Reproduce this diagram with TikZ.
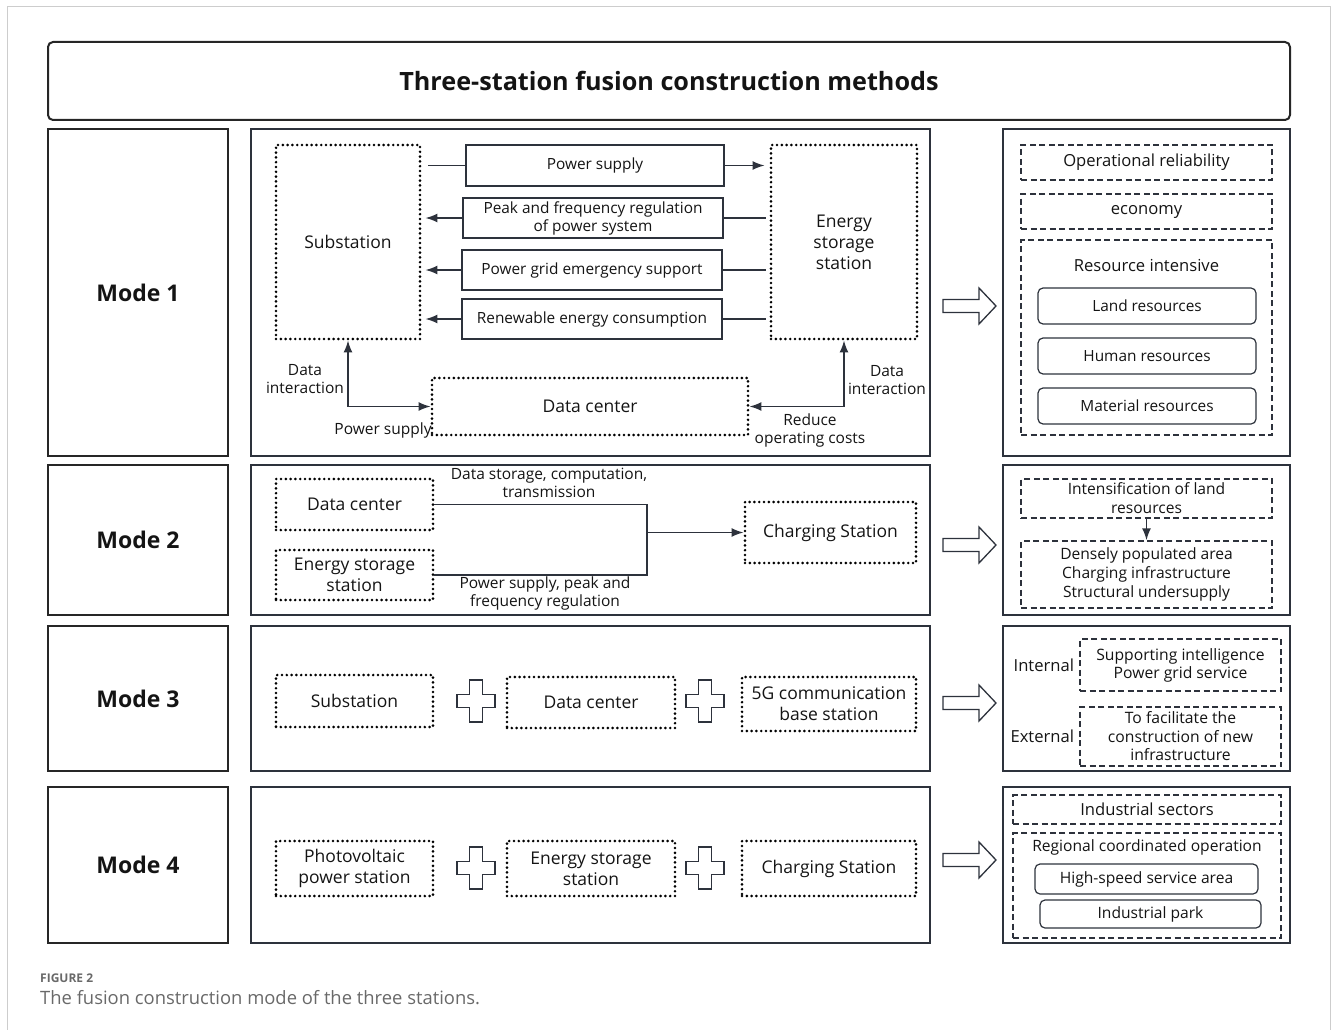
\documentclass[tikz,border=0pt]{standalone}
\usepackage{fontspec}
\setmainfont{Open Sans}
\usetikzlibrary{arrows.meta}
\usetikzlibrary{positioning}
\definecolor{edgegray}{RGB}{45,50,60}
\definecolor{txtgray}{RGB}{20,20,20}
\definecolor{capgray}{RGB}{105,105,105}
\definecolor{framegray}{RGB}{205,205,205}
\tikzset{
  basebox/.style={draw, inner sep=0pt, align=center, text=txtgray},
  titlebox/.style={basebox, draw=black!85, line width=2pt, rounded corners=5pt, font=\bfseries\fontsize{25.2}{29}\selectfont},
  modebox/.style={basebox, draw=black!85, line width=1.8pt, minimum width=180pt, font=\bfseries\fontsize{23}{26}\selectfont},
  panel/.style={basebox, draw=edgegray, line width=1.8pt},
  dotbox/.style={basebox, draw=black, line width=2.9pt, line cap=round, dash pattern=on 0pt off 4.8pt, font=\fontsize{17.5}{21}\selectfont},
  solidbox/.style={basebox, draw=edgegray, line width=1.3pt, font=\fontsize{15.4}{18}\selectfont},
  dashbox/.style={basebox, draw=edgegray, line width=1.5pt, dash pattern=on 6pt off 3.5pt, font=\fontsize{16.6}{19}\selectfont},
  roundbox/.style={basebox, draw=edgegray, line width=1.2pt, rounded corners=5pt, font=\fontsize{15.4}{18}\selectfont},
  lbl/.style={inner sep=0pt, align=center, text=txtgray, font=\fontsize{15.5}{18}\selectfont},
  flow/.style={draw=edgegray, line width=1.5pt},
  arr/.style={-{Latex[length=12pt,width=9pt]}},
  biarr/.style={{Latex[length=12pt,width=9pt]}-{Latex[length=12pt,width=9pt]}},
  plussign/.pic={\draw[edgegray, line width=1.3pt, fill=white] (-6.5,-21) -- (6.5,-21) -- (6.5,-6.5) -- (19,-6.5) -- (19,6.5) -- (6.5,6.5) -- (6.5,21) -- (-6.5,21) -- (-6.5,6.5) -- (-19,6.5) -- (-19,-6.5) -- (-6.5,-6.5) -- cycle;},
  hollowarrow/.pic={\draw[edgegray, line width=1.3pt, fill=white] (-27,-6.5) -- (9,-6.5) -- (9,-18) -- (26,0) -- (9,18) -- (9,6.5) -- (-27,6.5) -- cycle;}
}

\begin{document}
\begin{tikzpicture}[x=1pt, y=-1pt]
  \useasboundingbox (0,0) rectangle (1331,1030);
  \draw[framegray, line width=1pt] (7,1030) -- (7,7) -- (1330,7) -- (1330,1030);

  \node[titlebox, minimum width=1242pt, minimum height=78pt] (title) at (669,81) {Three-station fusion construction methods};

  \foreach \n/\yc/\h/\ya in {1/292.5/327/306, 2/540/150/545, 3/698.5/145/703, 4/865/156/860}{
    \node[modebox, minimum height=\h pt] (mode\n) at (138,\yc) {Mode \n};
    \node[panel, minimum width=679pt, minimum height=\h pt] (mid\n) at (590.5,\yc) {};
    \node[panel, minimum width=287pt, minimum height=\h pt] (res\n) at (1146.5,\yc) {};
    \pic at (970,\ya) {hollowarrow};
  }

  % mode 1
  \node[dotbox, minimum width=144pt, minimum height=194pt] (sub) at (348,242) {Substation};
  \node[dotbox, minimum width=146pt, minimum height=194pt] (ess) at (844,242) {Energy\\storage\\station};
  \node[solidbox, minimum width=258pt, minimum height=41pt] (ps) at (595,165.5) {Power supply};
  \node[solidbox, minimum width=260pt, minimum height=40pt] (peak) at (593,218) {Peak and frequency regulation\\of power system};
  \node[solidbox, minimum width=260pt, minimum height=40pt] (emg) at (592,270) {Power grid emergency support};
  \node[solidbox, minimum width=260pt, minimum height=40pt] (ren) at (592,319) {Renewable energy consumption};
  \node[dotbox, minimum width=316pt, minimum height=57pt] (dc) at (590,406.5) {Data center};

  \draw[flow] ([xshift=7pt]sub.east |- ps.west) -- (ps.west);
  \draw[flow, arr] (ps.east) -- ([xshift=-5pt]ess.west |- ps.east);
  \foreach \b in {peak, emg, ren}{
    \draw[flow] ([xshift=-4pt]ess.west |- \b.east) -- (\b.east);
    \draw[flow, arr] (\b.west) -- ([xshift=4pt]sub.east |- \b.west);
  }
  \draw[flow, biarr] (sub.south) |- (dc.west);
  \draw[flow, biarr] (ess.south) |- (dc.east);

  \node[lbl] (di1) at (305,379) {Data\\interaction};
  \node[lbl] (ps1) at (383,430) {Power supply};
  \node[lbl] (di2) at (887,380) {Data\\interaction};
  \node[lbl] (roc) at (810,430) {Reduce\\operating costs};

  % mode 2
  \node[dotbox, minimum width=157pt, minimum height=51pt] (dc2) at (354.5,504.5) {Data center};
  \node[dotbox, minimum width=157pt, minimum height=50pt] (ess2) at (354.5,575) {Energy storage\\station};
  \node[dotbox, minimum width=171pt, minimum height=61pt] (cs2) at (830.5,532.5) {Charging Station};
  \coordinate (jn) at (647,532.5);
  \draw[flow] (dc2.east) -| (jn) |- (ess2.east);
  \draw[flow, arr] (jn) -- (cs2.west);
  \node[lbl] (dst) at (549,483) {Data storage, computation,\\transmission};
  \node[lbl] (psp) at (545,593) {Power supply, peak and\\frequency regulation};

  % mode 3
  \node[dotbox, minimum width=157pt, minimum height=52pt] (sub3) at (354.5,701) {Substation};
  \node[dotbox, minimum width=168pt, minimum height=51pt] (dc3) at (591,702.5) {Data center};
  \node[dotbox, minimum width=174pt, minimum height=54pt] (bs3) at (829,704) {5G communication\\base station};
  \pic at (476,701) {plussign};
  \pic at (705,701) {plussign};

  % mode 4
  \node[dotbox, minimum width=157pt, minimum height=55pt] (pv4) at (354.5,868.5) {Photovoltaic\\power station};
  \node[dotbox, minimum width=168pt, minimum height=55pt] (ess4) at (591,868.5) {Energy storage\\station};
  \node[dotbox, minimum width=174pt, minimum height=55pt] (cs4) at (829,868.5) {Charging Station};
  \pic at (476,868) {plussign};
  \pic at (705,868) {plussign};

  % results
  \node[dashbox, minimum width=251pt, minimum height=35pt] (rel) at (1146.5,162.5) {Operational reliability};
  \node[dashbox, minimum width=251pt, minimum height=35pt] (eco) at (1146.5,211.5) {economy};
  \node[dashbox, minimum width=251pt, minimum height=195pt] (resi) at (1146.5,337.5) {};
  \node[lbl, font=\fontsize{16.6}{19}\selectfont] (resl) at (1146.5,265) {Resource intensive};
  \node[roundbox, minimum width=218pt, minimum height=36pt] (land) at (1147,306) {Land resources};
  \node[roundbox, minimum width=218pt, minimum height=36pt] (human) at (1147,356) {Human resources};
  \node[roundbox, minimum width=218pt, minimum height=36pt] (mat) at (1147,406) {Material resources};

  \node[dashbox, minimum width=251pt, minimum height=39pt, font=\fontsize{15.6}{19}\selectfont] (intens) at (1146.5,498.5) {Intensification of land\\resources};
  \node[dashbox, minimum width=251pt, minimum height=67pt, font=\fontsize{15.6}{19}\selectfont] (dense) at (1146.5,574.5) {Densely populated area\\Charging infrastructure\\Structural undersupply};
  \draw[flow, arr] (intens.south) -- (dense.north);

  \node[dashbox, minimum width=201pt, minimum height=52pt, font=\fontsize{15.7}{18}\selectfont] (supp) at (1180.5,665) {Supporting intelligence\\Power grid service};
  \node[dashbox, minimum width=201pt, minimum height=59pt, font=\fontsize{15.7}{18.5}\selectfont] (ext) at (1180.5,736.5) {To facilitate the\\construction of new\\infrastructure};
  \node[lbl, left=5pt of supp, font=\fontsize{16.6}{19}\selectfont] (intl) {Internal};
  \node[lbl, left=5pt of ext, font=\fontsize{16.6}{19}\selectfont] (extl) {External};

  \node[dashbox, minimum width=268pt, minimum height=29pt] (ind) at (1147,809.5) {Industrial sectors};
  \node[dashbox, minimum width=268pt, minimum height=105pt] (reg) at (1147,885.5) {};
  \node[lbl, font=\fontsize{15.6}{19}\selectfont] (regl) at (1147,847) {Regional coordinated operation};
  \node[roundbox, minimum width=223pt, minimum height=30pt, font=\fontsize{15.6}{18}\selectfont] (hs) at (1146.5,879) {High-speed service area};
  \node[roundbox, minimum width=221pt, minimum height=28pt, font=\fontsize{15.6}{18}\selectfont] (park) at (1150.5,914) {Industrial park};

  \node[anchor=west, inner sep=0pt, text=capgray, font=\bfseries\fontsize{12}{14}\selectfont] (fig) at (40,978) {FIGURE 2};
  \node[anchor=west, inner sep=0pt, text=capgray, font=\fontsize{18.4}{21}\selectfont] (cap) at (40,998) {The fusion construction mode of the three stations.};
\end{tikzpicture}
\end{document}
